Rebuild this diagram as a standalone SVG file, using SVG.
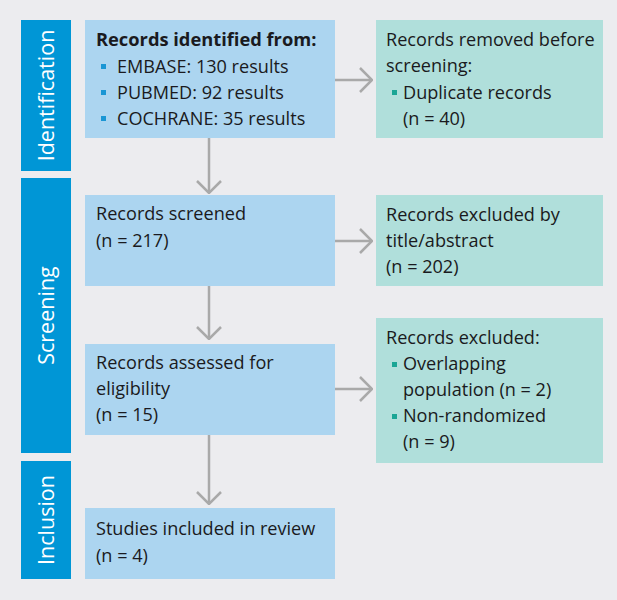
<svg xmlns="http://www.w3.org/2000/svg" width="617" height="600" viewBox="0 0 617 600">
<style>
.bg{fill:#ececef}
.bar{fill:#0096d6}
.lb{fill:#acd5f0}
.rb{fill:#b0dfdb}
.t{font-family:"Open Sans","Noto Sans","Liberation Sans",sans-serif;font-size:18.1px;fill:#1a1a20}
.b{font-weight:bold;font-size:18.3px}
.side{font-family:"Open Sans","Noto Sans","Liberation Sans",sans-serif;font-size:21.5px;fill:#ffffff;text-anchor:middle}
.bl{fill:#1a96d4}
.br{fill:#1aa595}
.c{stroke:#a9a9a9;stroke-width:2.5;fill:none}
</style>
<defs>
<marker id="ah" viewBox="0 0 14 26" refX="13" refY="13" markerWidth="14" markerHeight="26" markerUnits="userSpaceOnUse" orient="auto">
<path d="M1,1 L13,13 L1,25" fill="none" stroke="#a9a9a9" stroke-width="2.5"/>
</marker>
</defs>
<rect class="bg" x="0" y="0" width="617" height="600"/>
<g id="bar-identification">
<rect class="bar" x="21" y="20" width="50" height="151"/>
<text class="side" transform="translate(54,95.5) rotate(-90)">Identification</text>
</g>
<g id="bar-screening">
<rect class="bar" x="21" y="178" width="50" height="275"/>
<text class="side" transform="translate(54,315.5) rotate(-90)">Screening</text>
</g>
<g id="bar-inclusion">
<rect class="bar" x="21" y="461" width="50" height="118"/>
<text class="side" transform="translate(54,520) rotate(-90)">Inclusion</text>
</g>
<g id="connectors">
<line class="c" x1="335" y1="80" x2="372" y2="80" marker-end="url(#ah)"/>
<line class="c" x1="335" y1="241" x2="372" y2="241" marker-end="url(#ah)"/>
<line class="c" x1="335" y1="389" x2="372" y2="389" marker-end="url(#ah)"/>
<line class="c" x1="209" y1="138" x2="209" y2="193" marker-end="url(#ah)"/>
<line class="c" x1="209" y1="286" x2="209" y2="339" marker-end="url(#ah)"/>
<line class="c" x1="209" y1="435" x2="209" y2="504" marker-end="url(#ah)"/>
</g>
<g id="node-identified">
<rect class="lb" x="85" y="20" width="250" height="118"/>
<text class="t b" x="96" y="46">Records identified from:</text>
<rect class="bl" x="101" y="64" width="5" height="5"/>
<text class="t" x="117" y="73">EMBASE: 130 results</text>
<rect class="bl" x="101" y="90" width="5" height="5"/>
<text class="t" x="117" y="99">PUBMED: 92 results</text>
<rect class="bl" x="101" y="116" width="5" height="5"/>
<text class="t" x="117" y="125">COCHRANE: 35 results</text>
</g>
<g id="node-removed">
<rect class="rb" x="376" y="20" width="227" height="118"/>
<text class="t" x="386" y="46">Records removed before</text>
<text class="t" x="386" y="72">screening:</text>
<rect class="br" x="392" y="90" width="5" height="5"/>
<text class="t" x="403" y="99">Duplicate records</text>
<text class="t" x="403" y="125">(n = 40)</text>
</g>
<g id="node-screened">
<rect class="lb" x="85" y="195" width="250" height="91"/>
<text class="t" x="96" y="220">Records screened</text>
<text class="t" x="96" y="247">(n = 217)</text>
</g>
<g id="node-excluded-title">
<rect class="rb" x="376" y="195" width="227" height="91"/>
<text class="t" x="386" y="221">Records excluded by</text>
<text class="t" x="386" y="247">title/abstract</text>
<text class="t" x="386" y="273">(n = 202)</text>
</g>
<g id="node-assessed">
<rect class="lb" x="85" y="344" width="250" height="91"/>
<text class="t" x="96" y="369">Records assessed for</text>
<text class="t" x="96" y="395">eligibility</text>
<text class="t" x="96" y="421">(n = 15)</text>
</g>
<g id="node-excluded">
<rect class="rb" x="376" y="318" width="227" height="145"/>
<text class="t" x="386" y="344">Records excluded:</text>
<rect class="br" x="392" y="362" width="5" height="5"/>
<text class="t" x="403" y="370">Overlapping</text>
<text class="t" x="403" y="396">population (n = 2)</text>
<rect class="br" x="392" y="414" width="5" height="5"/>
<text class="t" x="403" y="422">Non-randomized</text>
<text class="t" x="403" y="448">(n = 9)</text>
</g>
<g id="node-included">
<rect class="lb" x="85" y="508" width="250" height="71"/>
<text class="t" x="96" y="535">Studies included in review</text>
<text class="t" x="96" y="562">(n = 4)</text>
</g>
</svg>
